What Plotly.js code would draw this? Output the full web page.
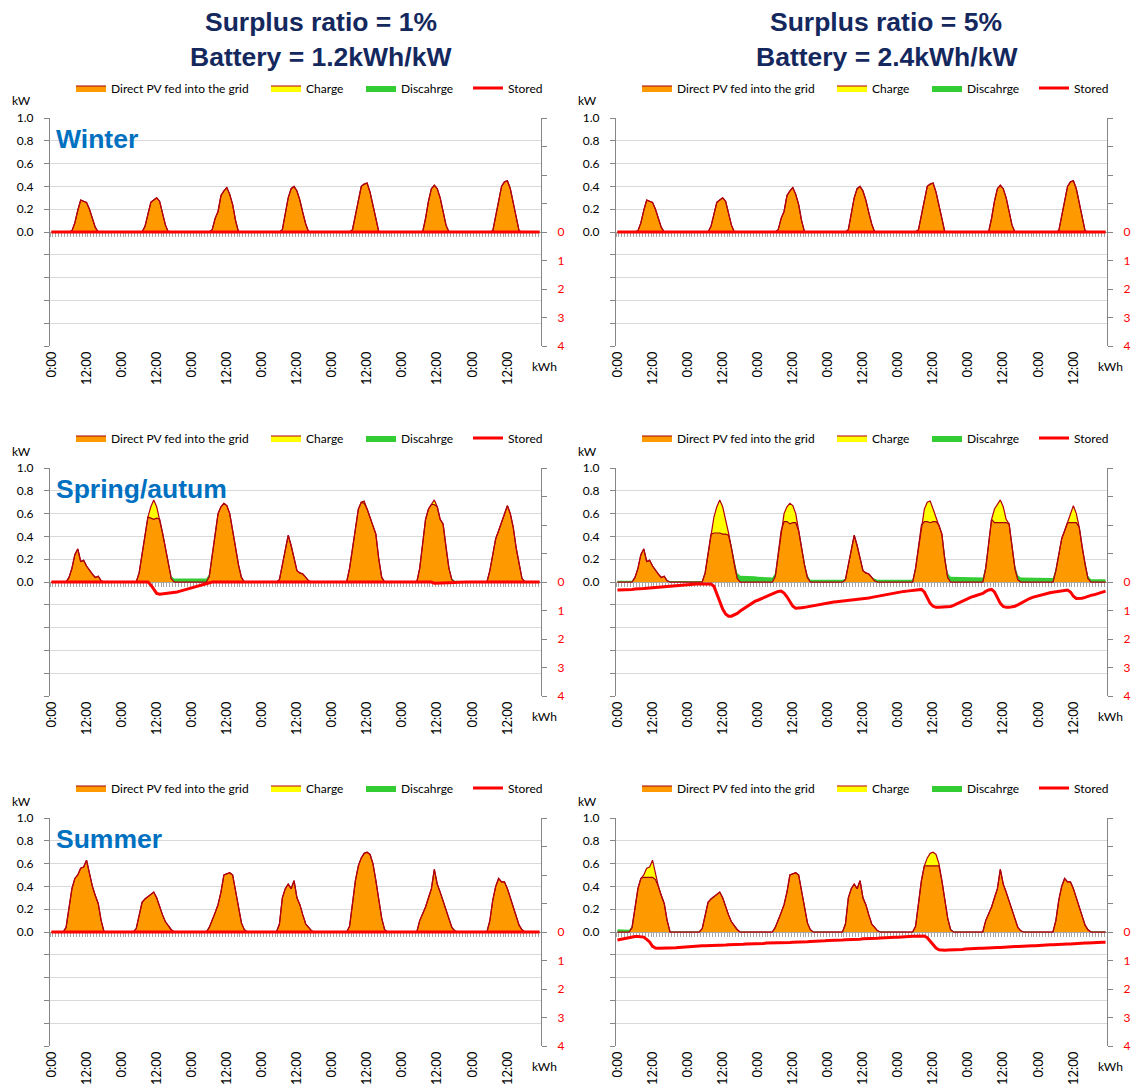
<!DOCTYPE html>
<html><head><meta charset="utf-8">
<script src="https://cdn.plot.ly/plotly-3.0.1.min.js"></script>
<style>html,body{margin:0;padding:0;background:#fff}#chart{width:1131px;height:1088px}</style>
</head><body><div id="chart"></div>
<script>
const SERIES_NAMES = ['Direct PV fed into the grid', 'Charge', 'Discahrge', 'Stored'];
const TICK_HOURS = [0, 12, 24, 36, 48, 60, 72, 84, 96, 108, 120, 132, 144, 156];
const TICK_LABELS = ['0:00','12:00','0:00','12:00','0:00','12:00','0:00','12:00','0:00','12:00','0:00','12:00','0:00','12:00'];
const KW_TICKS = [-1, -0.8, -0.6, -0.4, -0.2, 0, 0.2, 0.4, 0.6, 0.8, 1];
const KW_LABELS = ['', '', '', '', '', '0.0', '0.2', '0.4', '0.6', '0.8', '1.0'];
const KWH_TICKS = [-4, -3, -2, -1, 0, 1, 2, 3, 4];
const KWH_LABELS = ['', '', '', '', '0', '1', '2', '3', '4'];

const ZEROS = [
0,0,0,0,0,0,0,0,0,0,0,0,0,0,0,0,0,0,0,0,0,0,0,0,
0,0,0,0,0,0,0,0,0,0,0,0,0,0,0,0,0,0,0,0,0,0,0,0,
0,0,0,0,0,0,0,0,0,0,0,0,0,0,0,0,0,0,0,0,0,0,0,0,
0,0,0,0,0,0,0,0,0,0,0,0,0,0,0,0,0,0,0,0,0,0,0,0,
0,0,0,0,0,0,0,0,0,0,0,0,0,0,0,0,0,0,0,0,0,0,0,0,
0,0,0,0,0,0,0,0,0,0,0,0,0,0,0,0,0,0,0,0,0,0,0,0,
0,0,0,0,0,0,0,0,0,0,0,0,0,0,0,0,0,0,0,0,0,0,0,0];

const WINTER_PV = [
0,0,0,0,0,0,0,0.01,0.08,0.19,0.28,0.27,0.26,0.2,0.12,0.04,0,0,0,0,0,0,0,0,
0,0,0,0,0,0,0,0,0.05,0.17,0.26,0.28,0.3,0.27,0.16,0.06,0,0,0,0,0,0,0,0,
0,0,0,0,0,0,0,0.02,0.12,0.18,0.32,0.36,0.39,0.33,0.24,0.1,0,0,0,0,0,0,0,0,
0,0,0,0,0,0,0,0.02,0.15,0.3,0.38,0.4,0.36,0.28,0.17,0.07,0,0,0,0,0,0,0,0,
0,0,0,0,0,0,0,0.02,0.15,0.3,0.4,0.42,0.43,0.35,0.22,0.12,0,0,0,0,0,0,0,0,
0,0,0,0,0,0,0,0,0.12,0.27,0.38,0.41,0.38,0.3,0.18,0.06,0,0,0,0,0,0,0,0,
0,0,0,0,0,0,0,0.01,0.14,0.3,0.4,0.44,0.45,0.38,0.26,0.12,0.01,0,0,0,0,0,0,0];

const SPRING_PV_L = [
0,0,0,0,0,0,0.04,0.12,0.24,0.29,0.18,0.19,0.14,0.11,0.07,0.04,0.05,0.01,0,0,0,0,0,0,
0,0,0,0,0,0,0.08,0.25,0.42,0.57,0.56,0.55,0.56,0.55,0.43,0.3,0.15,0.03,0,0,0,0,0,0,
0,0,0,0,0,0,0.05,0.25,0.45,0.6,0.66,0.69,0.67,0.6,0.45,0.3,0.15,0.04,0,0,0,0,0,0,
0,0,0,0,0,0,0.02,0.15,0.28,0.41,0.32,0.2,0.1,0.08,0.07,0.04,0.01,0,0,0,0,0,0,0,
0,0,0,0,0,0,0.12,0.3,0.5,0.64,0.7,0.69,0.64,0.57,0.5,0.42,0.2,0.04,0,0,0,0,0,0,
0,0,0,0,0,0,0.12,0.35,0.55,0.64,0.68,0.68,0.66,0.55,0.51,0.3,0.12,0.02,0,0,0,0,0,0,
0,0,0,0,0,0,0.1,0.25,0.38,0.45,0.52,0.6,0.67,0.6,0.48,0.3,0.15,0.03,0,0,0,0,0,0];
const SPRING_CHG_L = [
0,0,0,0,0,0,0,0,0,0,0,0,0,0,0,0,0,0,0,0,0,0,0,0,
0,0,0,0,0,0,0,0,0,0,0.1,0.17,0.1,0,0,0,0,0,0,0,0,0,0,0,
0,0,0,0,0,0,0,0,0,0,0,0,0,0,0,0,0,0,0,0,0,0,0,0,
0,0,0,0,0,0,0,0,0,0,0,0,0,0,0,0,0,0,0,0,0,0,0,0,
0,0,0,0,0,0,0,0,0,0,0,0.02,0,0,0,0,0,0,0,0,0,0,0,0,
0,0,0,0,0,0,0,0,0,0,0,0.04,0,0,0,0,0,0,0,0,0,0,0,0,
0,0,0,0,0,0,0,0,0,0,0,0,0,0,0,0,0,0,0,0,0,0,0,0];
const SPRING_DIS_L = [
0,0,0,0,0,0,0,0,0,0,0,0,0,0,0,0,0,0,0,0,0,0,0,0,
0,0,0,0,0,0,0,0,0,0,0,0,0,0,0,0,0.01,0.02,0.03,0.03,0.03,0.03,0.03,0.03,
0.03,0.03,0.03,0.03,0.03,0.03,0.02,0,0,0,0,0,0,0,0,0,0,0,0,0,0,0,0,0,
0,0,0,0,0,0,0,0,0,0,0,0,0,0,0,0,0,0,0,0,0,0,0,0,
0,0,0,0,0,0,0,0,0,0,0,0,0,0,0,0,0,0,0,0,0,0,0,0,
0,0,0,0,0,0,0,0,0,0,0,0,0,0,0,0,0.01,0.01,0.01,0.01,0,0,0,0,
0,0,0,0,0,0,0,0,0,0,0,0,0,0,0,0,0,0,0,0,0,0,0,0];
const SPRING_STO_L = [
0,0,0,0,0,0,0,0,0,0,0,0,0,0,0,0,0,0,0,0,0,0,0,0,
0,0,0,0,0,0,0,0,0,0,0.1,0.27,0.4,0.43,0.42,0.41,0.4,0.38,0.37,0.35,0.32,0.29,0.27,0.24,
0.21,0.18,0.15,0.12,0.08,0.05,0.02,0,0,0,0,0,0,0,0,0,0,0,0,0,0,0,0,0,
0,0,0,0,0,0,0,0,0,0,0,0,0,0,0,0,0,0,0,0,0,0,0,0,
0,0,0,0,0,0,0,0,0,0,0,0.02,0.02,0.02,0.02,0.02,0.02,0.02,0.015,0.01,0.005,0,0,0,
0,0,0,0,0,0,0,0,0,0,0,0.04,0.04,0.04,0.04,0.04,0.04,0.03,0.02,0.01,0,0,0,0,
0,0,0,0,0,0,0,0,0,0,0,0,0,0,0,0,0,0,0,0,0,0,0,0];

const SPRING_PV_R = [
0,0,0,0,0,0,0.04,0.12,0.24,0.29,0.18,0.19,0.14,0.11,0.07,0.04,0.05,0.01,0,0,0,0,0,0,
0,0,0,0,0,0,0.08,0.25,0.42,0.43,0.43,0.43,0.42,0.42,0.41,0.3,0.15,0.03,0,0,0,0,0,0,
0,0,0,0,0,0,0.05,0.25,0.45,0.53,0.53,0.51,0.52,0.52,0.45,0.3,0.15,0.04,0,0,0,0,0,0,
0,0,0,0,0,0,0.02,0.15,0.28,0.41,0.32,0.2,0.1,0.08,0.07,0.04,0.01,0,0,0,0,0,0,0,
0,0,0,0,0,0,0.12,0.3,0.5,0.53,0.53,0.52,0.53,0.53,0.5,0.42,0.2,0.04,0,0,0,0,0,0,
0,0,0,0,0,0,0.12,0.35,0.55,0.52,0.52,0.52,0.52,0.52,0.51,0.3,0.12,0.02,0,0,0,0,0,0,
0,0,0,0,0,0,0.1,0.25,0.38,0.45,0.52,0.52,0.52,0.52,0.48,0.3,0.15,0.03,0,0,0,0,0,0];
const SPRING_CHG_R = [
0,0,0,0,0,0,0,0,0,0,0,0,0,0,0,0,0,0,0,0,0,0,0,0,
0,0,0,0,0,0,0,0,0,0.14,0.23,0.29,0.24,0.13,0.02,0,0,0,0,0,0,0,0,0,
0,0,0,0,0,0,0,0,0,0.07,0.13,0.18,0.15,0.08,0,0,0,0,0,0,0,0,0,0,
0,0,0,0,0,0,0,0,0,0,0,0,0,0,0,0,0,0,0,0,0,0,0,0,
0,0,0,0,0,0,0,0,0,0.11,0.17,0.19,0.11,0.04,0,0,0,0,0,0,0,0,0,0,
0,0,0,0,0,0,0,0,0,0.12,0.16,0.2,0.14,0.03,0,0,0,0,0,0,0,0,0,0,
0,0,0,0,0,0,0,0,0,0,0,0.08,0.15,0.08,0,0,0,0,0,0,0,0,0,0];
const SPRING_DIS_R = [
0.01,0.01,0.01,0.01,0.01,0.01,0.005,0,0,0,0,0,0,0,0,0,0,0.005,0.008,0.008,0.008,0.008,0.008,0.008,
0.008,0.008,0.008,0.008,0.008,0.008,0.005,0,0,0,0,0,0,0,0,0.02,0.04,0.05,0.055,0.055,0.05,0.05,0.05,0.05,
0.045,0.045,0.04,0.04,0.04,0.04,0.03,0.01,0,0,0,0,0,0,0,0,0.02,0.02,0.02,0.02,0.02,0.02,0.02,0.02,
0.02,0.02,0.02,0.02,0.02,0.02,0.01,0,0,0,0,0,0,0,0,0,0.02,0.02,0.02,0.02,0.02,0.02,0.02,0.02,
0.02,0.02,0.02,0.02,0.02,0.02,0.01,0,0,0,0,0,0,0,0,0,0.03,0.04,0.045,0.045,0.045,0.045,0.04,0.04,
0.04,0.04,0.04,0.04,0.04,0.04,0.02,0,0,0,0,0,0,0,0,0,0.03,0.04,0.04,0.04,0.04,0.04,0.04,0.04,
0.04,0.04,0.035,0.035,0.035,0.035,0.02,0,0,0,0,0,0,0,0,0,0.02,0.025,0.025,0.025,0.025,0.025,0.025,0.025];
const SPRING_STO_R = [
0.28,0.28,0.27,0.27,0.26,0.26,0.25,0.25,0.24,0.23,0.22,0.21,0.2,0.19,0.18,0.17,0.16,0.15,0.14,0.13,0.12,0.11,0.1,0.09,
0.08,0.08,0.08,0.07,0.07,0.07,0.07,0.07,0.07,0.15,0.4,0.7,0.95,1.12,1.2,1.2,1.16,1.1,1.02,0.95,0.87,0.79,0.73,0.68,
0.64,0.6,0.55,0.51,0.47,0.42,0.37,0.33,0.32,0.39,0.52,0.7,0.85,0.92,0.92,0.9,0.89,0.87,0.85,0.83,0.81,0.78,0.76,0.74,
0.72,0.7,0.7,0.69,0.68,0.67,0.66,0.65,0.64,0.63,0.62,0.61,0.6,0.58,0.56,0.54,0.52,0.5,0.48,0.46,0.43,0.41,0.39,0.37,
0.36,0.35,0.33,0.32,0.31,0.3,0.28,0.27,0.26,0.35,0.55,0.75,0.85,0.89,0.89,0.88,0.87,0.87,0.86,0.82,0.77,0.71,0.66,0.61,
0.57,0.53,0.5,0.46,0.43,0.4,0.33,0.28,0.26,0.35,0.55,0.75,0.86,0.89,0.89,0.88,0.85,0.8,0.74,0.68,0.63,0.58,0.54,0.51,
0.49,0.46,0.43,0.4,0.38,0.36,0.34,0.32,0.3,0.28,0.28,0.35,0.5,0.58,0.58,0.57,0.54,0.5,0.47,0.45,0.42,0.38,0.35,0.32];

const SUMMER_PV_L = [
0,0,0,0,0,0.04,0.2,0.38,0.47,0.5,0.56,0.57,0.63,0.52,0.4,0.32,0.25,0.1,0,0,0,0,0,0,
0,0,0,0,0,0.03,0.15,0.26,0.29,0.31,0.33,0.35,0.3,0.22,0.15,0.09,0.05,0.02,0,0,0,0,0,0,
0,0,0,0,0,0,0.04,0.1,0.17,0.24,0.35,0.5,0.51,0.52,0.5,0.35,0.2,0.08,0.02,0,0,0,0,0,
0,0,0,0,0,0,0.07,0.3,0.38,0.42,0.38,0.45,0.3,0.24,0.15,0.07,0.04,0.01,0,0,0,0,0,0,
0,0,0,0,0,0,0.05,0.25,0.45,0.58,0.65,0.69,0.7,0.68,0.6,0.45,0.3,0.12,0.02,0,0,0,0,0,
0,0,0,0,0,0,0.1,0.16,0.22,0.3,0.38,0.55,0.42,0.35,0.27,0.18,0.1,0.04,0.01,0,0,0,0,0,
0,0,0,0,0,0,0.1,0.28,0.4,0.47,0.44,0.44,0.38,0.3,0.22,0.15,0.06,0.02,0,0,0,0,0,0];
const SUMMER_PV_R = [
0,0,0,0,0,0.04,0.2,0.38,0.47,0.48,0.48,0.48,0.48,0.46,0.4,0.32,0.25,0.1,0,0,0,0,0,0,
0,0,0,0,0,0.03,0.15,0.26,0.29,0.31,0.33,0.35,0.3,0.22,0.15,0.09,0.05,0.02,0,0,0,0,0,0,
0,0,0,0,0,0,0.04,0.1,0.17,0.24,0.35,0.5,0.51,0.52,0.5,0.35,0.2,0.08,0.02,0,0,0,0,0,
0,0,0,0,0,0,0.07,0.3,0.38,0.42,0.38,0.45,0.3,0.24,0.15,0.07,0.04,0.01,0,0,0,0,0,0,
0,0,0,0,0,0,0.05,0.25,0.45,0.58,0.58,0.58,0.58,0.58,0.58,0.45,0.3,0.12,0.02,0,0,0,0,0,
0,0,0,0,0,0,0.1,0.16,0.22,0.3,0.38,0.55,0.42,0.35,0.27,0.18,0.1,0.04,0.01,0,0,0,0,0,
0,0,0,0,0,0,0.1,0.28,0.4,0.47,0.44,0.44,0.38,0.3,0.22,0.15,0.06,0.02,0,0,0,0,0,0];
const SUMMER_CHG_R = [
0,0,0,0,0,0,0,0,0,0.02,0.08,0.09,0.15,0.06,0,0,0,0,0,0,0,0,0,0,
0,0,0,0,0,0,0,0,0,0,0,0,0,0,0,0,0,0,0,0,0,0,0,0,
0,0,0,0,0,0,0,0,0,0,0,0,0,0,0,0,0,0,0,0,0,0,0,0,
0,0,0,0,0,0,0,0,0,0,0,0,0,0,0,0,0,0,0,0,0,0,0,0,
0,0,0,0,0,0,0,0,0,0,0.07,0.11,0.12,0.1,0.02,0,0,0,0,0,0,0,0,0,
0,0,0,0,0,0,0,0,0,0,0,0,0,0,0,0,0,0,0,0,0,0,0,0,
0,0,0,0,0,0,0,0,0,0,0,0,0,0,0,0,0,0,0,0,0,0,0,0];
const SUMMER_DIS_R = [
0.025,0.025,0.025,0.02,0.02,0.01,0,0,0,0,0,0,0,0,0,0,0,0,0.004,0.004,0.004,0.004,0.004,0.004,
0.004,0.004,0.004,0.004,0.004,0,0,0,0,0,0,0,0,0,0,0,0,0,0.004,0.004,0.004,0.004,0.004,0.004,
0.004,0.004,0.004,0.004,0.004,0,0,0,0,0,0,0,0,0,0,0,0,0,0.004,0.004,0.004,0.004,0.004,0.004,
0.004,0.004,0.004,0.004,0.004,0,0,0,0,0,0,0,0,0,0,0,0,0,0.004,0.004,0.004,0.004,0.004,0.004,
0.004,0.004,0.004,0.004,0.004,0,0,0,0,0,0,0,0,0,0,0,0,0,0.004,0.004,0.004,0.004,0.004,0.004,
0.004,0.004,0.004,0.004,0.004,0,0,0,0,0,0,0,0,0,0,0,0,0,0.004,0.004,0.004,0.004,0.004,0.004,
0.004,0.004,0.004,0.004,0.004,0,0,0,0,0,0,0,0,0,0,0,0,0,0.004,0.004,0.004,0.004,0.004,0.004];
const SUMMER_STO_R = [
0.28,0.26,0.23,0.2,0.18,0.17,0.16,0.16,0.16,0.18,0.26,0.35,0.5,0.56,0.57,0.57,0.57,0.57,0.57,0.56,0.55,0.54,0.53,0.52,
0.51,0.5,0.5,0.49,0.49,0.48,0.48,0.48,0.47,0.47,0.47,0.46,0.46,0.46,0.45,0.45,0.44,0.44,0.43,0.43,0.42,0.42,0.41,0.41,
0.4,0.4,0.4,0.39,0.39,0.39,0.38,0.38,0.38,0.37,0.37,0.37,0.36,0.36,0.35,0.35,0.34,0.34,0.33,0.33,0.32,0.32,0.31,0.31,
0.3,0.3,0.29,0.29,0.28,0.28,0.27,0.27,0.26,0.26,0.25,0.25,0.24,0.24,0.23,0.23,0.22,0.22,0.21,0.2,0.2,0.19,0.19,0.18,
0.18,0.17,0.17,0.16,0.16,0.15,0.15,0.14,0.14,0.14,0.2,0.32,0.45,0.56,0.62,0.64,0.64,0.63,0.63,0.62,0.62,0.61,0.61,0.6,
0.59,0.59,0.58,0.58,0.57,0.57,0.56,0.56,0.55,0.55,0.54,0.54,0.53,0.53,0.52,0.52,0.51,0.51,0.5,0.5,0.49,0.49,0.48,0.48,
0.47,0.47,0.46,0.46,0.45,0.45,0.44,0.44,0.43,0.43,0.42,0.42,0.41,0.41,0.4,0.4,0.39,0.39,0.38,0.38,0.37,0.37,0.36,0.36];

const COLUMN_TITLES = [['Surplus ratio = 1%', 'Battery = 1.2kWh/kW'], ['Surplus ratio = 5%', 'Battery = 2.4kWh/kW']];
const SEASONS = ['Winter', 'Spring/autum', 'Summer'];

// ---------- build ----------
const HOURS = ZEROS.map((_, i) => i);
const panels = [
  {pv: WINTER_PV, chg: ZEROS, dis: ZEROS, sto: ZEROS},
  {pv: WINTER_PV, chg: ZEROS, dis: ZEROS, sto: ZEROS},
  {pv: SPRING_PV_L, chg: SPRING_CHG_L, dis: SPRING_DIS_L, sto: SPRING_STO_L},
  {pv: SPRING_PV_R, chg: SPRING_CHG_R, dis: SPRING_DIS_R, sto: SPRING_STO_R},
  {pv: SUMMER_PV_L, chg: ZEROS, dis: ZEROS, sto: ZEROS},
  {pv: SUMMER_PV_R, chg: SUMMER_CHG_R, dis: SUMMER_DIS_R, sto: SUMMER_STO_R}
];

const W = 1131, H = 1088;
const colX = [[50, 541], [616, 1107]];     // plot area px
const rowY = [[118, 346], [468, 696], [818, 1046]];
const legendBoxX = [27, 222, 317, 424];   // legend symbol left edge, relative to plot left
const px = v => v / W, py = v => 1 - v / H;
const FONT = 'Lato, "Noto Sans", sans-serif';
const BOLD = '"Liberation Sans", Arial, sans-serif';

const data = [];
const layout = {
  width: W, height: H, autosize: false,
  margin: {l: 0, r: 0, t: 0, b: 0},
  paper_bgcolor: '#fff', plot_bgcolor: 'rgba(0,0,0,0)',
  showlegend: true,
  annotations: [],
  font: {family: FONT, size: 12, color: '#000'}
};

let legendCount = 0;
function newLegend(xLeft, yMid) {
  legendCount += 1;
  const id = legendCount === 1 ? 'legend' : 'legend' + legendCount;
  layout[id] = {orientation: 'h', x: px(xLeft - 6), xanchor: 'left', y: py(yMid), yanchor: 'middle',
    itemwidth: 30, font: {family: FONT, size: 12, color: '#000'}, bgcolor: 'rgba(0,0,0,0)',
    borderwidth: 0, itemclick: false, itemdoubleclick: false};
  return id;
}

panels.forEach((p, k) => {
  const n = k + 1, m = k + 7;
  const col = k % 2, row = Math.floor(k / 2);
  const sx = n === 1 ? '' : String(n);
  const xd = [px(colX[col][0]), px(colX[col][1])];
  const yd = [py(rowY[row][1]), py(rowY[row][0])];
  const zeroY = (yd[0] + yd[1]) / 2;
  const legY = rowY[row][0] - 30;
  const legs = legendBoxX.map(dx => newLegend(colX[col][0] + dx, legY));
  const common = {x: HOURS, xaxis: 'x' + sx, yaxis: 'y' + sx, mode: 'lines', stackgroup: 'g' + n,
                  hoverinfo: 'skip'};
  data.push(Object.assign({}, common, {y: p.pv, name: SERIES_NAMES[0], legend: legs[0], fillcolor: '#FF9900',
    line: {color: '#A0000A', width: 1.2}}));
  data.push(Object.assign({}, common, {y: p.chg, name: SERIES_NAMES[1], legend: legs[1], fillcolor: '#FFFF00',
    line: {color: '#B00010', width: 1.2}}));
  data.push(Object.assign({}, common, {y: p.dis, name: SERIES_NAMES[2], legend: legs[2], fillcolor: '#33CC33',
    line: {color: '#33CC33', width: 0}}));
  data.push({x: HOURS, y: p.sto, xaxis: 'x' + m, yaxis: 'y' + m, mode: 'lines', name: SERIES_NAMES[3],
    legend: legs[3], hoverinfo: 'skip', line: {color: '#FF0000', width: 3}});

  layout['xaxis' + sx] = {domain: xd, anchor: 'y' + sx, range: [-0.5, 167.5], tickmode: 'array',
    tickvals: TICK_HOURS, ticktext: TICK_LABELS, tickangle: -90, ticks: '', showline: false,
    showgrid: false, zeroline: false, tickfont: {family: FONT, size: 13, color: '#000'},
    ticklabelstandoff: 2, fixedrange: true};
  layout['yaxis' + sx] = {domain: yd, anchor: 'x' + sx, range: [-1, 1], tickmode: 'array',
    tickvals: KW_TICKS, ticktext: KW_LABELS, ticks: 'outside', ticklen: 5, tickcolor: '#868686',
    showline: true, linecolor: '#868686', linewidth: 1, showgrid: true, gridcolor: '#D9D9D9',
    zeroline: false, tickfont: {family: FONT, size: 12, color: '#000'}, ticklabelstandoff: 8, fixedrange: true};
  layout['xaxis' + m] = {overlaying: 'x' + sx, anchor: 'free', position: zeroY, side: 'bottom',
    range: [-0.5, 167.5], tickmode: 'linear', tick0: -0.5, dtick: 1, ticks: 'outside', ticklen: 4,
    tickcolor: '#A6A6A6', showticklabels: false, showline: true, linecolor: '#A6A6A6', showgrid: false,
    zeroline: false, layer: 'below traces', fixedrange: true};
  layout['yaxis' + m] = {overlaying: 'y' + sx, anchor: 'free', position: xd[1], side: 'right',
    range: [4, -4], tickmode: 'array', tickvals: KWH_TICKS, ticktext: KWH_LABELS, ticks: 'outside',
    ticklen: 5, tickcolor: '#868686', showline: true, linecolor: '#868686', showgrid: false, zeroline: false,
    tickfont: {family: FONT, size: 12, color: '#FF0000'}, ticklabelstandoff: 8, fixedrange: true};

  layout.annotations.push({text: 'kW', xref: 'paper', yref: 'paper', x: px(colX[col][0] - 29),
    y: py(rowY[row][0] - 17), xanchor: 'center', yanchor: 'middle', showarrow: false,
    font: {family: FONT, size: 12, color: '#000'}});
  layout.annotations.push({text: 'kWh', xref: 'paper', yref: 'paper', x: px(colX[col][1] + 3),
    y: py(rowY[row][1] + 20), xanchor: 'center', yanchor: 'middle', showarrow: false,
    font: {family: FONT, size: 12, color: '#000'}});
  if (col === 0) {
    layout.annotations.push({text: '<b>' + SEASONS[row] + '</b>', xref: 'paper', yref: 'paper',
      x: px(54), y: py(rowY[row][0] + 21), xanchor: 'left', yanchor: 'middle', showarrow: false,
      font: {family: BOLD, size: 26.5, color: '#0070C0'}});
  }
});

COLUMN_TITLES.forEach((lines, c) => {
  const cx = c === 0 ? 321 : 886;
  [22, 57].forEach((yy, i) => {
    layout.annotations.push({text: '<b>' + lines[i] + '</b>', xref: 'paper', yref: 'paper',
      x: px(cx), y: py(yy), xanchor: 'center', yanchor: 'middle', showarrow: false,
      font: {family: BOLD, size: 26.5, color: '#14285E'}});
  });
});

Plotly.newPlot('chart', data, layout, {staticPlot: true, displayModeBar: false});
</script></body></html>
